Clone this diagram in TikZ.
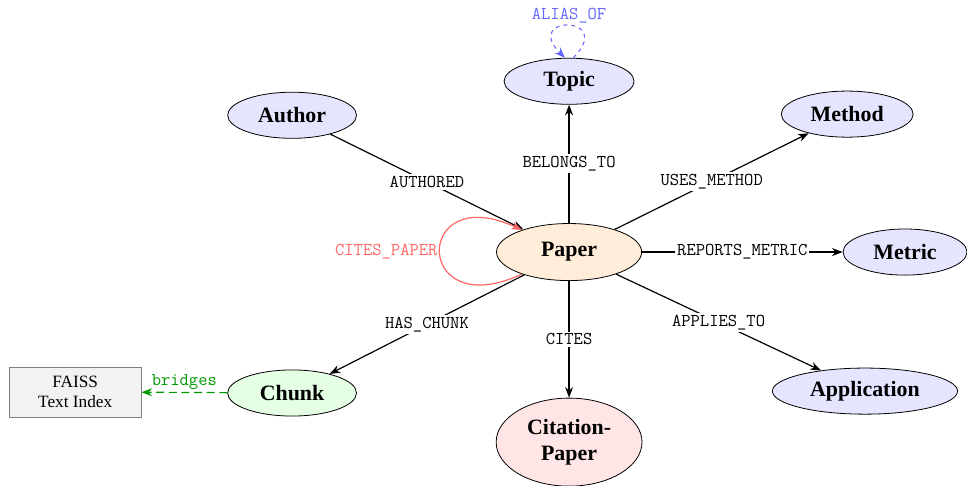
\documentclass[tikz,border=0pt]{standalone}
\usepackage{fontspec}
\setmainfont{Liberation Serif}
\usetikzlibrary{arrows.meta,shapes.geometric}
\begin{document}
\begin{tikzpicture}[>={Stealth[length=8pt,width=6pt]},
                       entity/.style={ellipse,draw,line width=0.6pt,fill=blue!10,minimum height=1.22cm,inner sep=1pt,align=center,font=\fontsize{16.5}{20}\selectfont\bfseries},
                       rel/.style={->,line width=0.9pt},
                       lbl/.style={fill=white,inner sep=1.5pt,font=\fontsize{13.6}{15}\selectfont\ttfamily}
                      ]
  \useasboundingbox (-15.06,-6.19) rectangle (10.53,6.67);
  \node[entity,minimum width=3.84cm,minimum height=1.51cm,fill=orange!15] (paper) at (0.00,0.00) {Paper};
  \node[entity,minimum width=3.41cm] (author) at (-7.33,3.62) {Author};
  \node[entity,minimum width=3.44cm] (topic) at (0.00,4.52) {Topic};
  \node[entity,minimum width=3.49cm] (method) at (7.36,3.65) {Method};
  \node[entity,minimum width=3.28cm] (metric) at (8.89,0.00) {Metric};
  \node[entity,minimum width=4.90cm] (application) at (7.83,-3.68) {Application};
  \node[entity,minimum width=3.86cm,minimum height=2.33cm,fill=red!10] (citation) at (0.00,-5.03) {Citation-\\Paper};
  \node[entity,minimum width=3.41cm,fill=green!10] (chunk) at (-7.33,-3.73) {Chunk};
  \node[draw=gray,fill=gray!10,minimum width=3.49cm,minimum height=1.32cm,align=center,font=\fontsize{13}{15}\selectfont] (faiss) at (-13.07,-3.70) {FAISS\\Text Index};

  \path%
   (author) edge [rel] node[lbl] {AUTHORED} (paper)
   (paper) edge [rel] node[lbl] {BELONGS\_TO} (topic)
   (paper) edge [rel] node[lbl] {USES\_METHOD} (method)
   (paper) edge [rel] node[lbl] {REPORTS\_METRIC} (metric)
   (paper) edge [rel] node[lbl] {APPLIES\_TO} (application)
   (paper) edge [rel] node[lbl] {CITES} (citation)
   (paper) edge [rel] node[lbl] {HAS\_CHUNK} (chunk);

  \path%
   (paper) edge [->,red!60,line width=0.9pt,out=205,in=155,looseness=7] node[left,red!60,lbl,fill=none] {CITES\_PAPER} (paper)
   (topic.80) edge [->,blue!60,dashed,line width=0.8pt,out=45,in=135,looseness=19] node[above,blue!60,lbl,fill=none] {ALIAS\_OF} (topic.100)
   (chunk) edge [->,green!60!black,line width=0.9pt,dash pattern=on 6pt off 3.5pt] node[above,lbl,fill=none] {bridges} (faiss);
 \end{tikzpicture}
\end{document}
